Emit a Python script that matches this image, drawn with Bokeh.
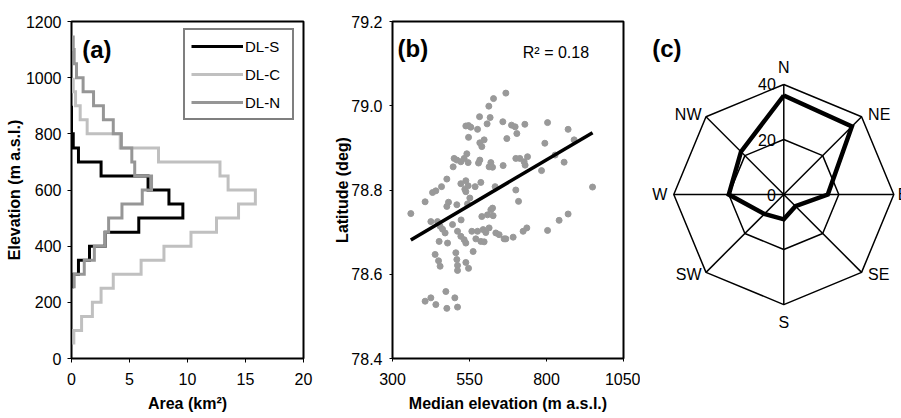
import numpy as np
from bokeh.plotting import figure
from bokeh.layouts import row
from bokeh.models import Range1d, Legend, LegendItem, Label, ColumnDataSource, CustomJSTickFormatter
from bokeh.core.properties import value, field
from bokeh.embed import file_html
from bokeh.resources import INLINE

FONT = "Liberation Sans"

# ---------------- data: panel (a) hypsometry (50 m bins) ----------------
bin_size = 50
dls_start = 250
dls_area = [0.1, 0.6, 1.55, 2.9, 5.8, 9.6, 8.4, 6.6, 2.55, 0.6, 0.15, 0.0, 0.0]
dlc_start = 50
dlc_area = [0.2, 0.87, 1.8, 2.55, 3.6, 6.0, 7.97, 10.3, 12.5, 14.4, 15.85, 13.5,
            12.8, 7.5, 4.2, 1.35, 0.75, 0.35, 0.15]
dln_start = 250
dln_area = [0.23, 1.1, 1.97, 2.9, 3.2, 4.35, 6.1, 6.9, 5.45, 5.2, 4.3, 3.6, 2.75,
            1.9, 1.0, 0.43, 0.23, 0.15]
series_names = ["DL-S", "DL-C", "DL-N"]
a_xticks = [0, 5, 10, 15, 20]
a_yticks = [0, 200, 400, 600, 800, 1000, 1200]

# ---------------- data: panel (b) ----------------
med_elev = [359.5, 405.9, 430.0, 440.7, 459.2, 476.4, 405.9, 424.5, 440.7, 473.2,
            476.4, 502.4, 511.1, 424.5, 446.2, 454.6, 462.4, 470.9, 494.9, 522.8,
            451.4, 478.7, 511.1, 521.9, 532.6, 538.1, 438.4, 449.5, 454.6, 505.6,
            508.9, 511.1, 511.1, 538.1, 546.9, 561.8, 557.6, 576.1, 594.3, 603.0,
            570.6, 586.8, 597.5, 613.7, 635.5, 646.2, 662.4, 590.0, 608.5, 626.7,
            619.3, 624.8, 481.9, 476.4, 508.9, 538.1, 551.1, 543.6, 538.1, 521.9,
            545.6, 534.8, 568.3, 586.8, 633.2, 541.3, 532.6, 545.6, 508.9, 500.1,
            496.9, 521.9, 583.5, 579.3, 619.3, 613.7, 624.8, 659.2, 668.0, 628.0,
            612.8, 582.6, 617.0, 658.2, 538.1, 546.9, 554.3, 607.2, 576.1, 671.2,
            546.9, 597.5, 583.5, 590.0, 686.5, 698.2, 703.7,
            729.7, 803.4, 870.2, 794.6, 889.7, 700.4, 713.4, 727.4, 738.4, 730.6,
            828.0, 857.2, 783.9, 700.4, 949.5, 709.2, 668.0, 691.7, 724.1, 736.1,
            803.4, 841.0, 870.2]
latitude = [78.744, 78.772, 78.794, 78.798, 78.808, 78.826, 78.536, 78.544, 78.528, 78.559,
            78.519, 78.544, 78.522, 78.725, 78.725, 78.714, 78.707, 78.698, 78.718, 78.729,
            78.678, 78.674, 78.702, 78.690, 78.682, 78.674, 78.647, 78.632, 78.619, 78.651,
            78.635, 78.621, 78.609, 78.628, 78.614, 78.654, 78.702, 78.702, 78.706, 78.699,
            78.684, 78.678, 78.677, 78.710, 78.698, 78.694, 78.684, 78.737, 78.741, 78.739,
            78.753, 78.757, 78.771, 78.761, 78.765, 78.796, 78.781, 78.767, 78.822, 78.815,
            78.810, 78.802, 78.808, 78.818, 78.808, 78.886, 78.875, 78.865, 78.871, 78.875,
            78.855, 78.867, 78.871, 78.864, 78.865, 78.855, 78.854, 78.858, 79.030, 79.017,
            78.999, 78.974, 78.972, 78.962, 78.952, 78.953, 78.949, 78.957, 78.944, 78.922,
            78.925, 78.919, 78.912, 78.903, 78.954, 78.950, 78.934,
            78.956, 78.960, 78.944, 78.911, 78.919, 78.875, 78.875, 78.867, 78.879, 78.859,
            78.883, 78.866, 78.846, 78.800, 78.807, 78.773, 78.684, 78.688, 78.702, 78.710,
            78.704, 78.728, 78.743]
trend_slope = 0.000432
trend_intercept = 78.526
r2_text = "R² = 0.18"
b_xticks = [300, 550, 800, 1050]
b_yticks = [78.4, 78.6, 78.8, 79.0, 79.2]

# ---------------- data: panel (c) ----------------
directions = ["N", "NE", "E", "SE", "S", "SW", "W", "NW"]
aspect_values = [36, 35, 16, 6, 9, 10, 20, 22]
ring_levels = [0, 20, 40]

TOP, BOTTOM, H = 21, 60, 418


def step_path(start, vals, size):
    xs, ys = [], []
    for i, v in enumerate(vals):
        lo = start + i * size
        xs += [v, v]
        ys += [lo, lo + size]
    return xs, ys


def style(p, tick_out=4, standoff=6, xstand=10, ylab_stand=0):
    p.xgrid.visible = False
    p.ygrid.visible = False
    p.outline_line_color = "black"
    p.outline_line_width = 2
    p.background_fill_color = "white"
    p.border_fill_color = "white"
    for ax in (p.xaxis[0], p.yaxis[0]):
        ax.major_label_text_font = FONT
        ax.major_label_text_font_size = "16px"
        ax.major_label_text_color = "black"
        ax.axis_label_text_font = FONT
        ax.axis_label_text_font_size = "16px"
        ax.axis_label_text_font_style = "bold"
        ax.axis_label_text_color = "black"
        ax.minor_tick_line_color = None
        ax.major_tick_in = 0
        ax.major_tick_out = tick_out
        ax.major_tick_line_color = "black"
        ax.axis_line_color = "black"
    p.yaxis[0].major_label_standoff = standoff
    p.xaxis[0].major_label_standoff = xstand
    p.xaxis[0].axis_label_standoff = 7
    p.yaxis[0].axis_label_standoff = ylab_stand


# ---------------- panel (a) ----------------
pa = figure(width=330, height=H, x_range=Range1d(0, 20), y_range=Range1d(0, 1200),
            output_backend="svg", toolbar_location=None,
            min_border_left=71, min_border_right=27, min_border_top=TOP, min_border_bottom=BOTTOM,
            x_axis_label="Area (km²)", y_axis_label="Elevation (m a.s.l.)")
style(pa, tick_out=4, standoff=6, xstand=10)
pa.xaxis.ticker = a_xticks
pa.yaxis.ticker = a_yticks

colors = {"DL-S": "#000000", "DL-C": "#c0c0c0", "DL-N": "#969696"}
paths = {"DL-S": step_path(dls_start, dls_area, bin_size),
         "DL-C": step_path(dlc_start, dlc_area, bin_size),
         "DL-N": step_path(dln_start, dln_area, bin_size)}
renderers = {}
for name in ["DL-C", "DL-S", "DL-N"]:
    xs, ys = paths[name]
    renderers[name] = pa.line(xs, ys, line_color=colors[name], line_width=3,
                              line_join="miter")

legend = Legend(items=[LegendItem(label=n, renderers=[renderers[n]]) for n in series_names],
                location=(112, 238), margin=0, padding=6, spacing=8,
                glyph_width=52, glyph_height=20, label_height=20, label_width=41,
                label_standoff=2, label_text_font=FONT, label_text_font_size="15px",
                label_text_color="black", border_line_color="black", border_line_width=2,
                background_fill_color="white", background_fill_alpha=1)
pa.add_layout(legend, "center")
pa.add_layout(Label(x=10.7, y=309, x_units="screen", y_units="screen", text="(a)",
                    text_font=FONT, text_font_size="24px", text_font_style="bold",
                    text_baseline="middle", text_color="black"))

# ---------------- panel (b) ----------------
pb = figure(width=310, height=H, x_range=Range1d(300, 1050), y_range=Range1d(78.4, 79.2),
            output_backend="svg", toolbar_location=None,
            min_border_left=62, min_border_right=17, min_border_top=TOP, min_border_bottom=BOTTOM,
            x_axis_label="Median elevation (m a.s.l.)", y_axis_label="Latitude (deg)")
style(pb, tick_out=3, standoff=7, xstand=11, ylab_stand=-3)
pb.xaxis.ticker = b_xticks
pb.yaxis.ticker = b_yticks
pb.yaxis.formatter = CustomJSTickFormatter(code="return tick.toFixed(1);")

pb.scatter(med_elev, latitude, size=6, fill_color="#999999", line_color="#999999")
tx = np.array([min(med_elev), max(med_elev)])
pb.line(tx, trend_intercept + trend_slope * tx, line_color="black", line_width=3.5)
pb.add_layout(Label(x=130.3, y=306, x_units="screen", y_units="screen", text=r2_text,
                    text_font=FONT, text_font_size="16px", text_baseline="middle",
                    text_color="black"))
pb.add_layout(Label(x=5, y=310, x_units="screen", y_units="screen", text="(b)",
                    text_font=FONT, text_font_size="24px", text_font_style="bold",
                    text_baseline="middle", text_color="black"))

# ---------------- panel (c) radar ----------------
pc = figure(width=261, height=H, x_range=Range1d(-52.1, 42.8), y_range=Range1d(-59.6, 62.9),
            output_backend="svg", toolbar_location=None, x_axis_type=None, y_axis_type=None,
            min_border_left=0, min_border_right=0, min_border_top=TOP,
            min_border_bottom=BOTTOM)
pc.outline_line_color = None
pc.xgrid.visible = False
pc.ygrid.visible = False

ang = np.deg2rad(np.arange(len(directions)) * 360.0 / len(directions))
rmax = max(ring_levels)
for lvl in ring_levels[1:]:
    rx = np.append(lvl * np.sin(ang), lvl * np.sin(ang[0]))
    ry = np.append(lvl * np.cos(ang), lvl * np.cos(ang[0]))
    pc.line(rx, ry, line_color="black", line_width=1.5)
pc.multi_line([[0, rmax * np.sin(a)] for a in ang], [[0, rmax * np.cos(a)] for a in ang],
              line_color="black", line_width=1.5)

vals = np.array(aspect_values, dtype=float)
dx = np.append(vals * np.sin(ang), vals[0] * np.sin(ang[0]))
dy = np.append(vals * np.cos(ang), vals[0] * np.cos(ang[0]))
pc.line(dx, dy, line_color="black", line_width=4.5, line_join="miter")

ring_src = ColumnDataSource(dict(x=[0] * len(ring_levels), y=ring_levels,
                                 t=[str(v) for v in ring_levels]))
pc.text(x="x", y="y", text="t", source=ring_src, text_font=value(FONT),
        text_font_size="16px", text_align="right", text_baseline="middle",
        x_offset=-8, text_color="black")

lab_align = ["center", "left", "left", "left", "center", "right", "right", "right"]
lab_dx = [0, 6.5, 4, 6.5, 0, -4.5, -6.5, -4.5]
lab_dy = [-17, -2, 0, 2, 17.5, 2, 0, -2]
dir_src = ColumnDataSource(dict(x=rmax * np.sin(ang), y=rmax * np.cos(ang), t=directions,
                                align=lab_align, ox=lab_dx, oy=lab_dy))
pc.text(x="x", y="y", text="t", source=dir_src, text_font=value(FONT),
        text_font_size="16px", text_align=field("align"), text_baseline="middle",
        x_offset=field("ox"), y_offset=field("oy"), text_color="black")
pc.add_layout(Label(x=11.7, y=310, x_units="screen", y_units="screen", text="(c)",
                    text_font=FONT, text_font_size="24px", text_font_style="bold",
                    text_baseline="middle", text_color="black"))

layout = row(pa, pb, pc)
open("out.html", "w").write(file_html(layout, INLINE))
